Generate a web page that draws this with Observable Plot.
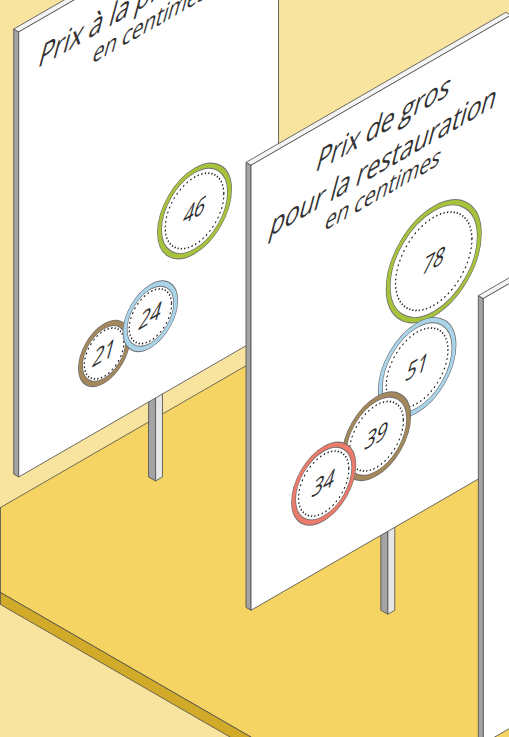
<!DOCTYPE html>
<html>
<head>
<meta charset="utf-8">
<script src="https://cdn.jsdelivr.net/npm/d3@7"></script>
<script src="https://cdn.jsdelivr.net/npm/@observablehq/plot@0.6"></script>
<style>
  html, body { margin: 0; padding: 0; background: #f9e49f; }
  #chart { width: 509px; height: 737px; overflow: hidden; }
  #chart svg { display: block; }
</style>
</head>
<body>
<div id="chart"></div>
<script>
// ---------------- DATA ----------------
const productKeys   = ["vert", "bleu", "brun", "rouge"];
const productColors = ["#a7c23b", "#a9d4ea", "#a4875b", "#ec7b6b"];

const prodTitle    = ["Prix à la production", "en centimes"];
const prodProducts = ["vert", "brun", "bleu"];
const prodValues   = [46, 21, 24];

const grosTitle    = ["Prix de gros", "pour la restauration", "en centimes"];
const grosProducts = ["vert", "bleu", "brun", "rouge"];
const grosValues   = [78, 51, 39, 34];

// ---------------- LAYOUT (board-plane coordinates) ----------------
const prodSlots = {vert: [203, 280.5], brun: [98.6, 370.8], bleu: [152, 360.3]};
const grosSlots = {vert: [211, 201.5], bleu: [191.8, 298.4], brun: [144.8, 343.4], rouge: [83.9, 360.3]};
const prodTitleV = [47, 74],      prodTitleSize = [28.5, 23.5];
const grosTitleV = [44, 82, 108], grosTitleSize = [28, 28, 23.5];

const W = 509, H = 737;
const C = Math.cos(Math.PI / 6), S = Math.sin(Math.PI / 6), T = Math.tan(Math.PI / 6);
const BW = 300, BH = 445, PAD = 14, POSTB = 528;
const boardOrigins = [[18.3, 31.7], [250.6, 165], [482.9, 298.3]];
const BG = "#f9e49f", FLOOR = "#f5d463", FLOOR_SIDE = "#d1aa2a", EDGE = "#4a4a4a";
const FONT = "'Open Sans', Lato, sans-serif";
const NS = "http://www.w3.org/2000/svg";

const colorOf = Object.fromEntries(productKeys.map((k, i) => [k, productColors[i]]));
const poly = pts => [...pts, pts[0]].map(([x, y]) => ({x, y}));

// ---------------- SCENE ----------------
const floorTop  = poly([[0, 507], [900, 507 - 900 * T], [900, 592 + 900 * T], [0, 592]]);
const floorSide = poly([[0, 592], [900, 592 + 900 * T], [900, 604 + 900 * T], [0, 604]]);

const scene = Plot.plot({
  width: W, height: H, margin: 0,
  x: {domain: [0, W], range: [0, W], axis: null},
  y: {domain: [0, H], range: [0, H], axis: null},
  marks: [
    Plot.frame({fill: BG, stroke: "none"}),
    Plot.line(floorTop,  {x: "x", y: "y", fill: FLOOR, stroke: EDGE, strokeWidth: 0.8}),
    Plot.line(floorSide, {x: "x", y: "y", fill: FLOOR_SIDE, stroke: EDGE, strokeWidth: 0.8})
  ]
});

function boardPlot(title, titleV, titleSize, products, values, slots) {
  const items = products.map((k, i) => ({key: k, value: values[i], color: colorOf[k], u: slots[k][0], v: slots[k][1]}));
  const lines = title.map((t, i) => ({t, v: titleV[i], fs: titleSize[i]}));
  const geo = (pts, fill) => Plot.line(poly(pts), {x: "x", y: "y", fill, stroke: "#505050", strokeWidth: 0.8});
  return Plot.plot({
    width: BW + 2 * PAD, height: POSTB + 2 * PAD, margin: 0,
    x: {domain: [-PAD, BW + PAD], range: [0, BW + 2 * PAD], axis: null},
    y: {domain: [-PAD, POSTB + PAD], range: [0, POSTB + 2 * PAD], axis: null},
    r: {type: "sqrt", domain: [0, 100], range: [0, 59.6]},
    color: {type: "identity"},
    marks: [
      geo([[158, 430], [158, POSTB], [149.9, POSTB - 8], [149.9, 422]], "#a4a4a4"),
      geo([[158, 430], [166, 430], [166, POSTB], [158, POSTB]], "#e6e6e6"),
      geo([[0, 0], [-5.8, -5.8], [-5.8, BH - 5.8], [0, BH]], "#a4a4a4"),
      geo([[0, 0], [BW, 0], [BW - 5.8, -5.8], [-5.8, -5.8]], "#f4f4f4"),
      geo([[0, 0], [BW, 0], [BW, BH], [0, BH]], "#ffffff"),
      ...lines.map(l => Plot.text([l], {x: BW / 2, y: "v", text: "t", fontSize: l.fs, lineAnchor: "bottom",
        textAnchor: "middle", fill: "#333", fontFamily: FONT, fontWeight: 400})),
      ...items.flatMap(d => [
        Plot.dot([d], {x: "u", y: "v", r: "value", fill: "white", stroke: "#707070", strokeWidth: 5.6}),
        Plot.dot([d], {x: "u", y: "v", r: "value", fill: "none", stroke: "color", strokeWidth: 4}),
        Plot.dot([d], {x: "u", y: "v", r: e => e.value * 0.7, fill: "none", stroke: "#1e1e1e",
          strokeWidth: 1.7, strokeDasharray: "0.1 4.2", strokeLinecap: "round"}),
        Plot.text([d], {x: "u", y: "v", text: "value", fontSize: 22, lineAnchor: "middle",
          fill: "#2a2a2a", fontFamily: FONT, fontWeight: 400})
      ])
    ]
  });
}

function embed(svg, [ox, oy]) {
  const g = document.createElementNS(NS, "g");
  g.setAttribute("transform", `matrix(${C},${-S},0,1,${ox},${oy}) translate(${-PAD},${-PAD})`);
  for (const a of ["fill", "font-family", "font-size", "text-anchor", "class"]) {
    const v = svg.getAttribute(a);
    if (v != null) g.setAttribute(a, v);
  }
  while (svg.firstChild) g.appendChild(svg.firstChild);
  g.querySelectorAll("text").forEach(t => {
    const tr = t.getAttribute("transform");
    if (tr && tr.includes("translate")) {
      t.setAttribute("transform", tr + " skewX(-20)");
    } else {
      const x = +t.getAttribute("x") || 0, y = +t.getAttribute("y") || 0;
      t.removeAttribute("x"); t.removeAttribute("y");
      t.setAttribute("transform", `translate(${x},${y}) skewX(-20)`);
    }
  });
  scene.appendChild(g);
}

embed(boardPlot(prodTitle, prodTitleV, prodTitleSize, prodProducts, prodValues, prodSlots), boardOrigins[0]);
embed(boardPlot(grosTitle, grosTitleV, grosTitleSize, grosProducts, grosValues, grosSlots), boardOrigins[1]);
embed(boardPlot([], [], [], [], [], {}), boardOrigins[2]);

document.getElementById("chart").appendChild(scene);
</script>
</body>
</html>
